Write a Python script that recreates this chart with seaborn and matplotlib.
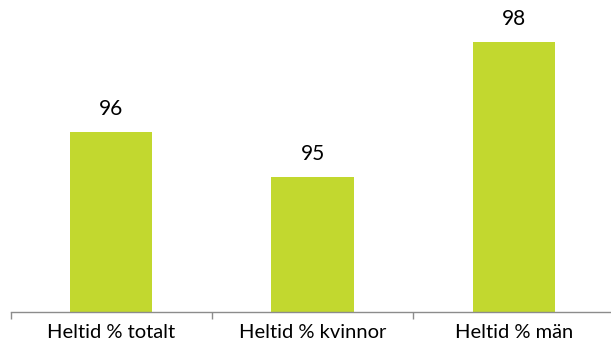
import matplotlib
matplotlib.use("Agg")
import matplotlib.pyplot as plt
import seaborn as sns
import pandas as pd

categories = ["Heltid % totalt", "Heltid % kvinnor", "Heltid % män"]
values = [96, 95, 98]

df = pd.DataFrame({"kategori": categories, "andel": values})

sns.set_theme(style="white")
plt.rcParams["font.family"] = ["Lato", "DejaVu Sans"]

fig = plt.figure(figsize=(6.11, 3.47), dpi=100)
# axes run slightly past the right edge of the figure
ax = fig.add_axes([10.5 / 611, 35 / 347, 604 / 611, 312 / 347])

sns.barplot(data=df, x="kategori", y="andel", color="#c2d82f", width=0.41,
            saturation=1, linewidth=0, edgecolor="none", ax=ax)

ax.set_ylim(92, 98.93)
ax.set_xlim(-0.5, 2.5)
ax.set_xlabel("")
ax.set_ylabel("")
ax.set_yticks([])

for i, v in enumerate(values):
    ax.annotate(f"{v}", (i, v), xytext=(0, 9), textcoords="offset points",
                ha="center", va="bottom", fontsize=15, color="black")

for side in ["left", "right", "top"]:
    ax.spines[side].set_visible(False)
ax.spines["bottom"].set_color("#8c8c8c")
ax.spines["bottom"].set_linewidth(1)

ax.set_xticks([-0.5, 0.5, 1.5, 2.5], minor=True)
ax.tick_params(axis="x", which="minor", length=5, width=1, color="#8c8c8c",
               direction="out", bottom=True)
ax.tick_params(axis="x", which="major", length=0, pad=9, labelsize=14.5,
               labelcolor="black")

fig.savefig("out.png", dpi=100)
